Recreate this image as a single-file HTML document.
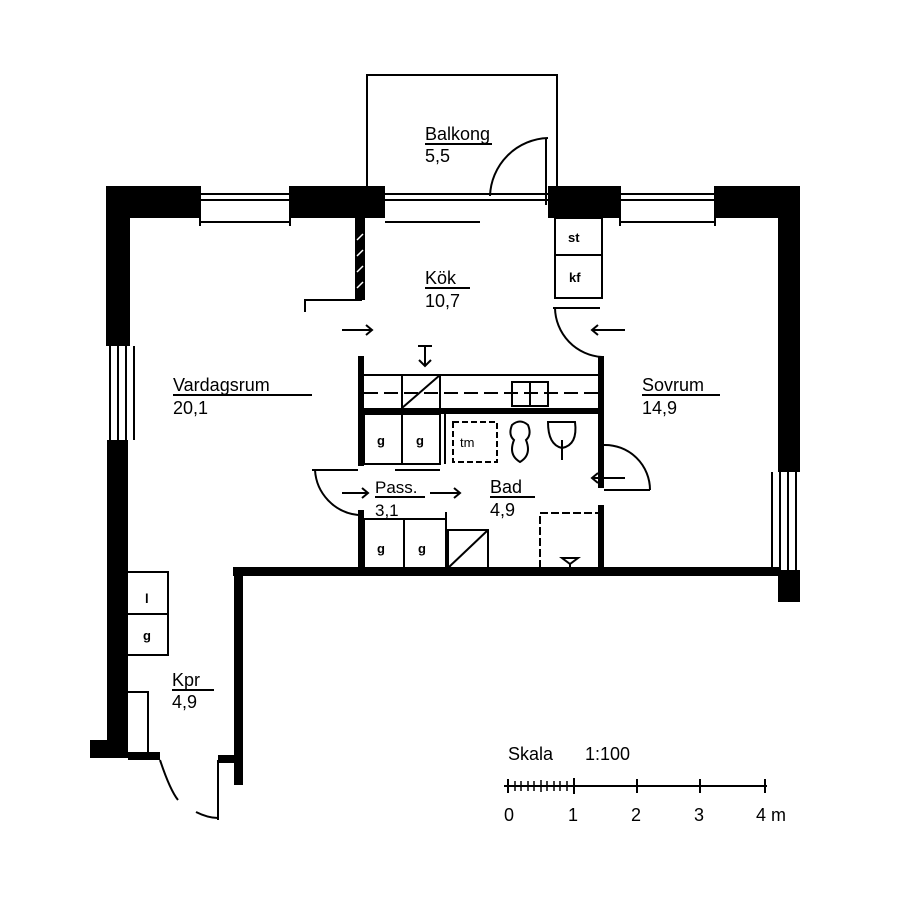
<!DOCTYPE html>
<html><head><meta charset="utf-8"><style>
html,body{margin:0;padding:0;background:#fff;}
svg{display:block;}
text{font-family:"Liberation Sans",sans-serif;fill:#000;}
</style></head><body>
<svg width="900" height="900" viewBox="0 0 900 900" xmlns="http://www.w3.org/2000/svg">
<rect width="900" height="900" fill="#fff"/>
<g fill="#000" stroke="none">
<!-- top wall solid segments -->
<rect x="106" y="186" width="94" height="32"/>
<rect x="290" y="186" width="95" height="32"/>
<rect x="548" y="186" width="72" height="32"/>
<rect x="715" y="186" width="85" height="32"/>
<!-- left wall -->
<rect x="106" y="186" width="24" height="160"/>
<rect x="107" y="440" width="21" height="318"/>
<rect x="90" y="740" width="38" height="18"/>
<rect x="128" y="752" width="32" height="8"/>
<!-- right wall -->
<rect x="778" y="186" width="22" height="286"/>
<rect x="778" y="570" width="22" height="32"/>
<!-- inner walls -->
<rect x="233" y="567" width="547" height="9"/>
<rect x="234" y="567" width="9" height="218"/>
<rect x="218" y="755" width="16" height="8"/>
<!-- core walls -->
<rect x="358" y="356" width="6" height="110"/>
<rect x="598" y="356" width="6" height="132"/>
<rect x="598" y="505" width="6" height="65"/>
<rect x="358" y="510" width="6" height="60"/>
<rect x="358" y="408" width="246" height="6"/>
<rect x="355" y="218" width="10" height="82"/>
</g>
<g fill="none" stroke="#000" stroke-width="2">
<!-- windows top -->
<line x1="200" y1="194" x2="290" y2="194"/><line x1="200" y1="200" x2="290" y2="200"/><line x1="200" y1="222" x2="290" y2="222"/>
<line x1="200" y1="186" x2="200" y2="226"/><line x1="290" y1="186" x2="290" y2="226"/>
<line x1="385" y1="194" x2="548" y2="194"/><line x1="385" y1="200" x2="548" y2="200"/><line x1="385" y1="222" x2="480" y2="222"/>
<line x1="620" y1="194" x2="715" y2="194"/><line x1="620" y1="200" x2="715" y2="200"/><line x1="620" y1="222" x2="715" y2="222"/>
<line x1="620" y1="186" x2="620" y2="226"/><line x1="715" y1="186" x2="715" y2="226"/>
<!-- left window -->
<line x1="110" y1="346" x2="110" y2="440"/><line x1="118" y1="346" x2="118" y2="440"/><line x1="126" y1="346" x2="126" y2="440"/><line x1="134" y1="346" x2="134" y2="440"/>
<!-- right window -->
<line x1="780" y1="472" x2="780" y2="570"/><line x1="788" y1="472" x2="788" y2="570"/><line x1="796" y1="472" x2="796" y2="570"/><line x1="772" y1="472" x2="772" y2="570"/>
<!-- balcony -->
<polyline points="367,186 367,75 557,75 557,186"/>
<line x1="546" y1="138" x2="546" y2="205"/>
<path d="M490,196 A60,60 0 0 1 548,138"/>
<!-- kitchen -->
<polyline points="362,300 305,300 305,312"/>
<rect x="555" y="218" width="47" height="80"/><line x1="555" y1="255" x2="602" y2="255"/>
<path d="M555,308 A50,50 0 0 0 602,357"/>
<line x1="553" y1="308" x2="600" y2="308"/>
<!-- arrows -->
<path d="M342,330 H372 M366,325 L372,330 L366,335"/>
<path d="M625,330 H592 M598,325 L592,330 L598,335"/>
<path d="M625,478 H592 M598,473 L592,478 L598,483"/>
<path d="M342,493 H368 M362,488 L368,493 L362,498"/>
<path d="M430,493 H460 M454,488 L460,493 L454,498"/>
<path d="M425,345 V365 M419,360 L425,366 L431,360 M418,346 H432"/>
<!-- core shelves -->
<line x1="364" y1="375" x2="598" y2="375"/>
<line x1="364" y1="393" x2="598" y2="393" stroke-dasharray="14,6"/>
<line x1="402" y1="375" x2="402" y2="408"/><line x1="440" y1="375" x2="440" y2="408"/>
<line x1="402" y1="408" x2="440" y2="375"/>
<rect x="512" y="382" width="36" height="24"/><line x1="530" y1="382" x2="530" y2="406"/>
<rect x="364" y="414" width="76" height="50"/><line x1="402" y1="414" x2="402" y2="464"/><line x1="445" y1="414" x2="445" y2="464"/>
<rect x="453" y="422" width="44" height="40" stroke-dasharray="6,3"/>
<path d="M512,425 Q520,418 528,425 Q532,435 526,440 Q532,455 520,462 Q508,455 514,440 Q508,435 512,425 Z"/>
<path d="M548,422 H575 Q578,445 562,448 Q548,445 548,422 Z"/>
<line x1="562" y1="440" x2="562" y2="460"/>
<!-- pass door -->
<line x1="312" y1="470" x2="358" y2="470"/><line x1="395" y1="470" x2="440" y2="470"/>
<path d="M315,470 A48,48 0 0 0 358,515"/>
<!-- bad door -->
<path d="M604,445 A45,45 0 0 1 650,490"/><line x1="604" y1="490" x2="650" y2="490"/>
<!-- lower core -->
<rect x="364" y="519" width="82" height="49"/><line x1="404" y1="519" x2="404" y2="568"/>
<line x1="446" y1="512" x2="446" y2="568"/>
<rect x="448" y="530" width="40" height="38"/><line x1="448" y1="568" x2="488" y2="530"/>
<polyline points="540,568 540,513 600,513" stroke-dasharray="8,3"/>
<path d="M562,558 H578 L570,564 Z M570,564 V568"/>
<!-- kpr closet -->
<polyline points="128,572 168,572 168,655 128,655"/><line x1="128" y1="614" x2="168" y2="614"/>
<polyline points="128,692 148,692 148,755"/>
<path d="M160,760 Q170,790 178,800"/><path d="M196,812 Q208,818 218,818"/>
<line x1="218" y1="760" x2="218" y2="820"/>
<!-- scale -->
<line x1="504" y1="786" x2="767" y2="786"/>
<line x1="508" y1="779" x2="508" y2="793"/><line x1="574" y1="778" x2="574" y2="794"/>
<line x1="637" y1="779" x2="637" y2="793"/><line x1="700" y1="779" x2="700" y2="793"/><line x1="765" y1="779" x2="765" y2="793"/>
<g stroke-width="1.5"><line x1="515" y1="781" x2="515" y2="791"/><line x1="521" y1="781" x2="521" y2="791"/><line x1="528" y1="781" x2="528" y2="791"/><line x1="534" y1="781" x2="534" y2="791"/><line x1="541" y1="780" x2="541" y2="792"/><line x1="547" y1="781" x2="547" y2="791"/><line x1="554" y1="781" x2="554" y2="791"/><line x1="560" y1="781" x2="560" y2="791"/><line x1="567" y1="781" x2="567" y2="791"/></g>
</g>
<!-- hatch on kitchen wall -->
<g stroke="#fff" stroke-width="1.5"><line x1="357" y1="240" x2="363" y2="234"/><line x1="357" y1="256" x2="363" y2="250"/><line x1="357" y1="272" x2="363" y2="266"/><line x1="357" y1="288" x2="363" y2="282"/></g>
<g font-size="18">
<text x="425" y="140">Balkong</text><text x="425" y="162">5,5</text>
<text x="425" y="284">Kök</text><text x="425" y="307">10,7</text>
<text x="173" y="391">Vardagsrum</text><text x="173" y="414">20,1</text>
<text x="642" y="391">Sovrum</text><text x="642" y="414">14,9</text>
<text x="375" y="493" font-size="17">Pass.</text><text x="375" y="516" font-size="17">3,1</text>
<text x="490" y="493">Bad</text><text x="490" y="516">4,9</text>
<text x="172" y="686">Kpr</text><text x="172" y="708">4,9</text>
<text x="508" y="760">Skala</text><text x="585" y="760">1:100</text>
<text x="504" y="821">0</text><text x="568" y="821">1</text><text x="631" y="821">2</text><text x="694" y="821">3</text><text x="756" y="821">4 m</text>
</g>
<g font-size="13" font-weight="bold">
<text x="568" y="242">st</text><text x="569" y="282">kf</text>
<text x="460" y="447" font-weight="normal">tm</text>
<text x="377" y="445">g</text><text x="416" y="445">g</text>
<text x="377" y="553">g</text><text x="418" y="553">g</text>
<text x="145" y="603">l</text><text x="143" y="640">g</text>
</g>
<g stroke="#000" stroke-width="2">
<line x1="425" y1="144" x2="492" y2="144"/><line x1="425" y1="288" x2="470" y2="288"/>
<line x1="173" y1="395" x2="312" y2="395"/><line x1="642" y1="395" x2="720" y2="395"/>
<line x1="375" y1="497" x2="425" y2="497"/><line x1="490" y1="497" x2="535" y2="497"/>
<line x1="172" y1="690" x2="214" y2="690"/>
</g>
</svg>
</body></html>
